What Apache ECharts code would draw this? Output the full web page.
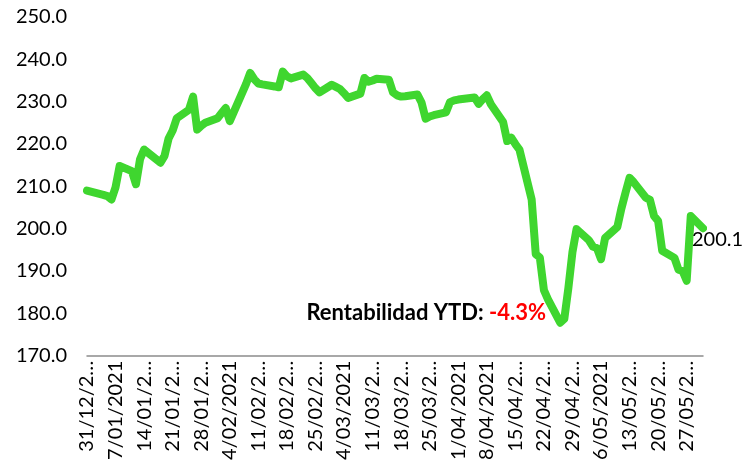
<!DOCTYPE html>
<html>
<head>
    <meta charset="utf-8">
    <title>Rentabilidad YTD</title>
    <script src="https://cdn.jsdelivr.net/npm/echarts@6/dist/echarts.min.js"></script>
    <style>html, body { margin: 0; padding: 0; background: #fff; }</style>
</head>
<body>
<div id="main" style="width: 742px;height:463px;"></div>
<script type="text/javascript">
    // fechas de sesión (eje de fechas: fines de semana y festivos quedan como hueco)
    const fechas = [
        '2020-12-31',
        '2021-01-04', '2021-01-05', '2021-01-06', '2021-01-07', '2021-01-08',
        '2021-01-11', '2021-01-12', '2021-01-13', '2021-01-14', '2021-01-15',
        '2021-01-18', '2021-01-19', '2021-01-20', '2021-01-21', '2021-01-22',
        '2021-01-25', '2021-01-26', '2021-01-27', '2021-01-28', '2021-01-29',
        '2021-02-01', '2021-02-02', '2021-02-03', '2021-02-04', '2021-02-05',
        '2021-02-08', '2021-02-09', '2021-02-10', '2021-02-11', '2021-02-12',
        '2021-02-15', '2021-02-16', '2021-02-17', '2021-02-18', '2021-02-19',
        '2021-02-22', '2021-02-23', '2021-02-24', '2021-02-25', '2021-02-26',
        '2021-03-01', '2021-03-02', '2021-03-03', '2021-03-04', '2021-03-05',
        '2021-03-08', '2021-03-09', '2021-03-10', '2021-03-11', '2021-03-12',
        '2021-03-15', '2021-03-16', '2021-03-17', '2021-03-18', '2021-03-19',
        '2021-03-22', '2021-03-23', '2021-03-24', '2021-03-25', '2021-03-26',
        '2021-03-29', '2021-03-30', '2021-03-31', '2021-04-01',
        '2021-04-05', '2021-04-06', '2021-04-07', '2021-04-08', '2021-04-09',
        '2021-04-12', '2021-04-13', '2021-04-14', '2021-04-15', '2021-04-16',
        '2021-04-19', '2021-04-20', '2021-04-21', '2021-04-22', '2021-04-23',
        '2021-04-26', '2021-04-27', '2021-04-28', '2021-04-29', '2021-04-30',
        '2021-05-03', '2021-05-04', '2021-05-05', '2021-05-06', '2021-05-07',
        '2021-05-10', '2021-05-11', '2021-05-12', '2021-05-13', '2021-05-14',
        '2021-05-17', '2021-05-18', '2021-05-19', '2021-05-20', '2021-05-21',
        '2021-05-24', '2021-05-25', '2021-05-26', '2021-05-27', '2021-05-28',
        '2021-05-31'
    ];

    // valor de cada sesión, mismo orden que fechas
    const valores = [
        209.0,
        208.0, 207.7, 206.9, 209.8, 214.8,
        213.6, 210.5, 216.4, 218.7, 217.9,
        215.6, 217.2, 221.3, 223.2, 226.1,
        228.1, 231.2, 223.4, 224.3, 225.0,
        226.1, 227.3, 228.5, 225.4, 227.6,
        234.2, 236.8, 235.3, 234.3, 234.1,
        233.6, 233.4, 237.1, 236.0, 235.5,
        236.4, 235.6, 234.4, 233.2, 232.2,
        234.0, 233.5, 233.0, 232.0, 230.9,
        231.9, 235.6, 234.7, 235.0, 235.4,
        235.2, 232.2, 231.5, 231.2, 231.3,
        231.7, 229.8, 226.0, 226.5, 226.8,
        227.5, 229.9, 230.3, 230.5,
        231.0, 229.5, 230.6, 231.5, 229.4,
        225.2, 220.7, 221.5, 220.0, 218.7,
        206.9, 194.0, 193.2, 185.5, 183.3,
        177.8, 178.7, 186.0, 194.5, 199.9,
        197.3, 195.8, 195.4, 192.8, 197.8,
        200.4, 204.8, 208.5, 212.0, 211.0,
        207.3, 206.8, 203.0, 201.8, 194.8,
        193.1, 190.3, 190.0, 187.7, 203.0,
        200.1
    ];

    // marcas del eje Y
    const yTicks = [170, 180, 190, 200, 210, 220, 230, 240, 250];
    const diasEntreEtiquetas = 7;

    const FUENTE = 'Lato';
    const DIA = 86400000;
    const origen = Date.UTC(2020, 11, 31);

    function indiceDia(iso) {
        const p = iso.split('-').map(Number);
        return Math.round((Date.UTC(p[0], p[1] - 1, p[2]) - origen) / DIA);
    }

    function etiquetaFecha(d) {
        const f = new Date(origen + d * DIA);
        const mm = String(f.getUTCMonth() + 1).padStart(2, '0');
        const txt = f.getUTCDate() + '/' + mm + '/' + f.getUTCFullYear();
        // como en excel, las que no caben se cortan
        return txt.length > 9 ? txt.slice(0, 7) + '…' : txt;
    }

    const serie = fechas.map(function (f, i) { return [indiceDia(f), valores[i]]; });
    const ultimoDia = indiceDia(fechas[fechas.length - 1]);
    const ytd = ((valores[valores.length - 1] / valores[0] - 1) * 100).toFixed(1);

    let myChart = echarts.init(document.getElementById('main'));

    myChart.setOption({
        animation: false,
        grid: { left: 87, right: 39, top: 17, bottom: 106 },
        xAxis: {
            type: 'value',
            min: 0,
            max: ultimoDia,
            interval: diasEntreEtiquetas,
            axisLine: { show: true, onZero: false, lineStyle: { color: '#8c8c8c', width: 1.5 } },
            axisTick: { show: false },
            splitLine: { show: false },
            axisLabel: {
                rotate: 90,
                margin: 5,
                showMaxLabel: false,
                fontFamily: FUENTE,
                fontSize: 20,
                color: '#000',
                formatter: etiquetaFecha
            }
        },
        yAxis: {
            type: 'value',
            min: yTicks[0],
            max: yTicks[yTicks.length - 1],
            interval: yTicks[1] - yTicks[0],
            axisLine: { show: false },
            axisTick: { show: false },
            splitLine: { show: false },
            axisLabel: {
                margin: 20,
                fontFamily: FUENTE,
                fontSize: 20,
                color: '#000',
                formatter: function (v) { return v.toFixed(1); }
            }
        },
        series: [{
            type: 'line',
            data: serie,
            symbol: 'none',
            lineStyle: { color: '#3fd62f', width: 8, cap: 'round', join: 'round' },
            endLabel: {
                show: true,
                fontFamily: FUENTE,
                fontSize: 20,
                color: '#000',
                offset: [-19, 11],
                formatter: function (p) { return p.value[1].toFixed(1); }
            }
        }],
        graphic: [{
            type: 'text',
            right: 196,
            top: 302,
            style: {
                text: '{a|Rentabilidad YTD: }{b|' + ytd + '%}',
                rich: {
                    a: { fontFamily: FUENTE, fontSize: 22, fontWeight: 'bold', fill: '#000' },
                    b: { fontFamily: FUENTE, fontSize: 22, fontWeight: 'bold', fill: '#ff0000' }
                }
            }
        }]
    });
</script>
</body>
</html>
